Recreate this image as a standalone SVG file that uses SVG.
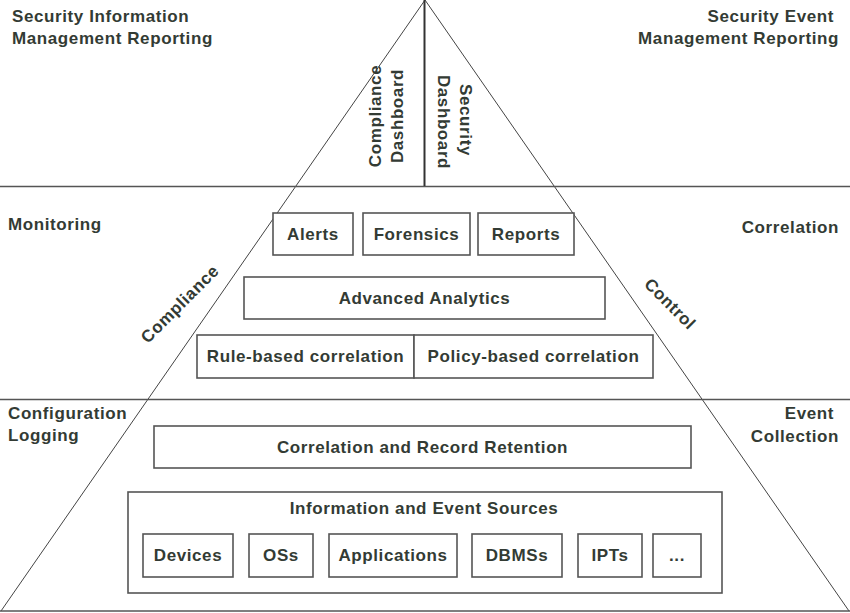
<svg xmlns="http://www.w3.org/2000/svg" width="850" height="613" viewBox="0 0 850 613">
<style>
text{font-family:"Liberation Sans",Arial,sans-serif;font-weight:bold;font-size:17px;fill:#333b34;letter-spacing:0.6px}
.m{text-anchor:middle}
.e{text-anchor:end}
.box{fill:#fff;stroke:#555;stroke-width:1.6}
.hl{stroke:#555;stroke-width:1.6;fill:none}
.edge{stroke:#444;stroke-width:1;fill:none}
</style>
<rect width="850" height="613" fill="#fff"/>
<g id="connectors">
<line class="edge" x1="425" y1="0" x2="1" y2="611"/>
<line class="edge" x1="425" y1="0" x2="849" y2="611"/>
<line class="hl" x1="0" y1="186.5" x2="850" y2="186.5"/>
<line class="hl" x1="0" y1="399.5" x2="850" y2="399.5"/>
<line class="hl" x1="0" y1="611" x2="850" y2="611"/>
<line x1="424.5" y1="0" x2="424.5" y2="186" stroke="#333" stroke-width="2"/>
</g>
<g id="labels">
<text x="12" y="22">Security Information</text>
<text x="12" y="44">Management Reporting</text>
<text class="e" x="834" y="22">Security Event</text>
<text class="e" x="839" y="44">Management Reporting</text>
<text class="m" transform="translate(381,116) rotate(-90)">Compliance</text>
<text class="m" transform="translate(403,116) rotate(-90)">Dashboard</text>
<text class="m" transform="translate(460,120) rotate(90)">Security</text>
<text class="m" transform="translate(438,122) rotate(90)">Dashboard</text>
<text x="8" y="230">Monitoring</text>
<text class="e" x="839" y="233">Correlation</text>
<text class="m" transform="translate(184,308) rotate(-45)">Compliance</text>
<text class="m" transform="translate(666,308) rotate(45)">Control</text>
<text x="8" y="419">Configuration</text>
<text x="8" y="441">Logging</text>
<text class="e" x="834" y="419">Event</text>
<text class="e" x="839" y="442">Collection</text>
</g>
<g id="alerts"><rect class="box" x="273" y="213" width="80" height="42"/><text class="m" x="313" y="240">Alerts</text></g>
<g id="forensics"><rect class="box" x="363" y="213" width="107" height="42"/><text class="m" x="416.5" y="240">Forensics</text></g>
<g id="reports"><rect class="box" x="478" y="213" width="96" height="42"/><text class="m" x="526" y="240">Reports</text></g>
<g id="advanced-analytics"><rect class="box" x="244" y="277" width="361" height="42"/><text class="m" x="424.5" y="304">Advanced Analytics</text></g>
<g id="rule-based"><rect class="box" x="197" y="335" width="217" height="43"/><text class="m" x="305.5" y="362">Rule-based correlation</text></g>
<g id="policy-based"><rect class="box" x="414" y="335" width="239" height="43"/><text class="m" x="533.5" y="362">Policy-based correlation</text></g>
<g id="retention"><rect class="box" x="154" y="426" width="537" height="42"/><text class="m" x="422.5" y="453">Correlation and Record Retention</text></g>
<g id="sources"><rect class="box" x="128" y="492" width="594" height="101"/><text class="m" x="424" y="514">Information and Event Sources</text>
<g id="devices"><rect class="box" x="143" y="534" width="90" height="43"/><text class="m" x="188" y="561">Devices</text></g>
<g id="oss"><rect class="box" x="249" y="534" width="64" height="43"/><text class="m" x="281" y="561">OSs</text></g>
<g id="applications"><rect class="box" x="329" y="534" width="128" height="43"/><text class="m" x="393" y="561">Applications</text></g>
<g id="dbmss"><rect class="box" x="472" y="534" width="90" height="43"/><text class="m" x="517" y="561">DBMSs</text></g>
<g id="ipts"><rect class="box" x="578" y="534" width="64" height="43"/><text class="m" x="610" y="561">IPTs</text></g>
<g id="more"><rect class="box" x="653" y="534" width="48" height="43"/><text class="m" x="677" y="561">...</text></g>
</g>
</svg>
